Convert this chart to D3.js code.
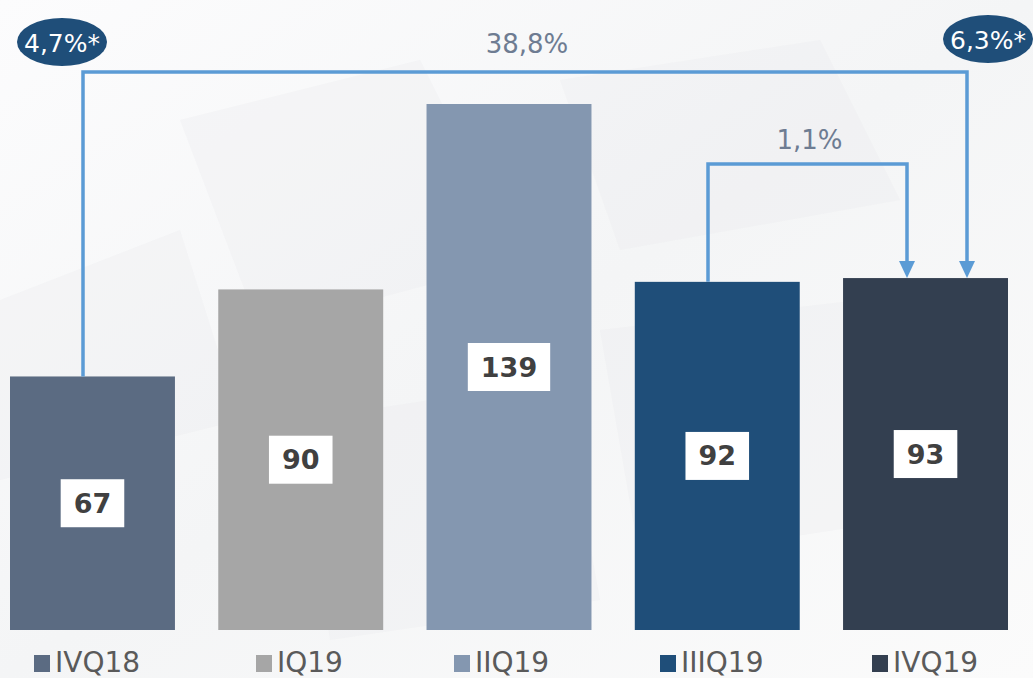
<!DOCTYPE html>
<html><head><meta charset="utf-8">
<script src="https://cdn.jsdelivr.net/npm/d3@7"></script>
<style>
html,body{margin:0;padding:0;background:#fff;}
svg{display:block;}
</style></head>
<body>
<svg id="chart" width="1033" height="678"></svg>
<script>
const categories = ["IVQ18","IQ19","IIQ19","IIIQ19","IVQ19"];
const values = [67, 90, 139, 92, 93];
const colors = ["#5b6b82","#a6a6a6","#8497b0","#1f4e79","#333f50"];
const badges = ["4,7%*","6,3%*"];
const changes = [{from:0,to:4,label:"38,8%"},{from:3,to:4,label:"1,1%"}];

const W=1033,H=678;
const svg=d3.select("#chart");
const FONT="'Century Gothic','URW Gothic','DejaVu Sans',sans-serif";

// background
const defs=svg.append("defs");
const g=defs.append("linearGradient").attr("id","bg").attr("x1",0).attr("y1",0).attr("x2",1).attr("y2",1);
g.append("stop").attr("offset","0%").attr("stop-color","#fcfcfd");
g.append("stop").attr("offset","50%").attr("stop-color","#f4f5f6");
g.append("stop").attr("offset","100%").attr("stop-color","#fbfbfb");
svg.append("rect").attr("width",W).attr("height",H).attr("fill","url(#bg)");
const bgPolys=[
 [[180,120],[420,60],[520,260],[260,330]],
 [[560,80],[820,40],[900,200],[620,250]],
 [[0,300],[180,230],[240,420],[0,480]],
 [[600,330],[860,300],[900,520],[640,560]],
 [[300,420],[560,380],[600,600],[330,640]]
];
svg.append("g").selectAll("polygon").data(bgPolys).join("polygon")
 .attr("points",d=>d.map(p=>p.join(",")).join(" "))
 .attr("fill","#e6e7ea").attr("opacity",0.25);

const x=d3.scaleBand().domain(categories).range([10,1008]).paddingInner(0.208).paddingOuter(0);
const y=d3.scaleLinear().domain([0,139]).range([630,104]);

svg.append("g").selectAll("rect").data(categories).join("rect")
 .attr("x",d=>x(d)).attr("width",x.bandwidth())
 .attr("y",(d,i)=>y(values[i])).attr("height",(d,i)=>y(0)-y(values[i]))
 .attr("fill",(d,i)=>colors[i]);

// value labels
const lab=svg.append("g");
categories.forEach((c,i)=>{
  const cx=x(c)+x.bandwidth()/2, cy=(y(values[i])+y(0))/2;
  const t=lab.append("text").attr("x",cx).attr("y",cy).attr("text-anchor","middle")
   .attr("dominant-baseline","central").attr("font-family",FONT).attr("font-weight","bold")
   .attr("font-size",27).attr("fill","#404040").text(values[i]);
  const bw=t.node().getBBox().width;
  const w=Math.max(61,bw+26);
  lab.insert("rect","text").attr("x",cx-w/2).attr("y",cy-24).attr("width",w).attr("height",48).attr("fill","#fff");
});

// arrows
const arrowSpec=[{fx:83,tx:967,top:72,labY:44},{fx:708,tx:907,top:164,labY:140}];
changes.forEach((c,k)=>{
  const s=arrowSpec[k];
  const y0=y(values[c.from]), y1=y(values[c.to]);
  svg.append("path").attr("d",`M${s.fx},${y0} V${s.top} H${s.tx} V${y1-16}`)
   .attr("fill","none").attr("stroke","#5b9bd5").attr("stroke-width",3.5);
  svg.append("path").attr("d",`M${s.tx-8},${y1-17} L${s.tx+8},${y1-17} L${s.tx},${y1} Z`).attr("fill","#5b9bd5");
  svg.append("text").attr("x",(s.fx+s.tx)/2+2).attr("y",s.labY).attr("text-anchor","middle")
   .attr("dominant-baseline","central").attr("font-family",FONT).attr("font-size",26)
   .attr("fill","#6e7c92").text(c.label);
});

// badges
const badgePos=[[62,42],[988,39]];
badges.forEach((b,i)=>{
  svg.append("ellipse").attr("cx",badgePos[i][0]).attr("cy",badgePos[i][1]).attr("rx",45).attr("ry",24).attr("fill","#1f4e79");
  svg.append("text").attr("x",badgePos[i][0]).attr("y",badgePos[i][1]+1).attr("text-anchor","middle")
   .attr("dominant-baseline","central").attr("font-family",FONT).attr("font-size",25).attr("fill","#fff").text(b);
});

// legend
const legX=[34,256,454,660,872];
const leg=svg.append("g");
categories.forEach((c,i)=>{
  leg.append("rect").attr("x",legX[i]).attr("y",655).attr("width",16).attr("height",17).attr("fill",colors[i]);
  leg.append("text").attr("x",legX[i]+21).attr("y",662).attr("dominant-baseline","central")
   .attr("font-family",FONT).attr("font-size",28).attr("fill","#5a5a5a").text(c);
});
</script>
</body></html>
